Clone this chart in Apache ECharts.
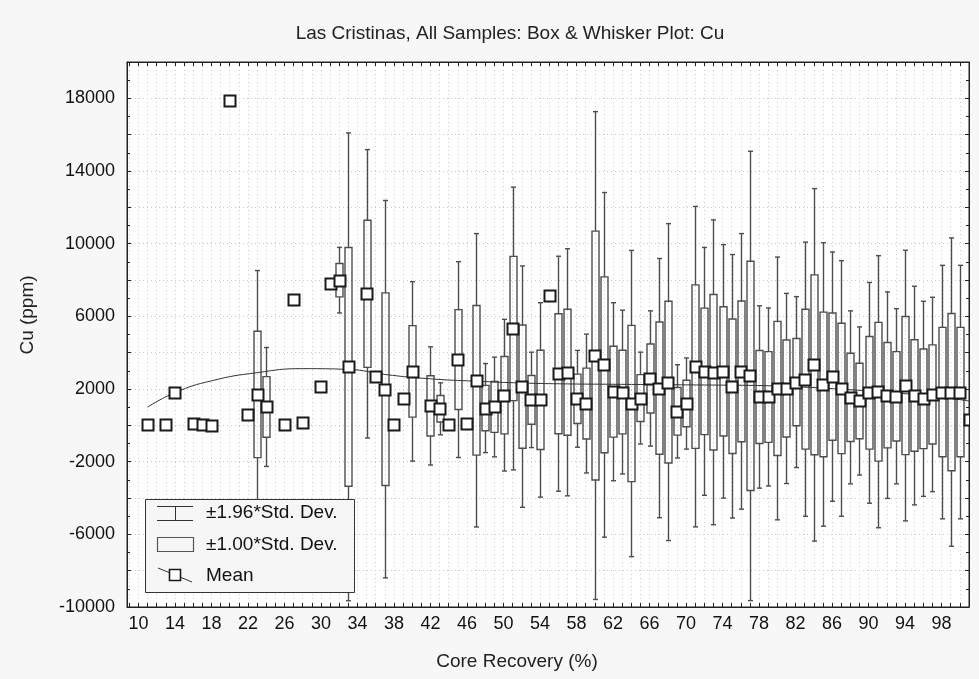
<!DOCTYPE html>
<html><head><meta charset="utf-8">
<script src="https://cdn.jsdelivr.net/npm/echarts@6/dist/echarts.min.js"></script>
<style>html,body{margin:0;padding:0;background:#f7f7f7}#c{width:979px;height:679px}</style>
</head><body><div id="c"></div>
<script>
// Core recovery categories (%)
const recovery = [11,13,14,16,17,18,20,22,23,24,26,27,28,30,31,32,33,35,36,37,38,39,40,42,43,44,45,46,47,48,49,50,51,52,53,54,55,56,57,58,59,60,61,62,63,64,65,66,67,68,69,70,71,72,73,74,75,76,77,78,79,80,81,82,83,84,85,86,87,88,89,90,91,92,93,94,95,96,97,98,99,100,101];
// Mean Cu (ppm)
const meanCu = [20,40,1830,120,60,-15,17880,620,1700,1010,30,6950,160,2150,7790,7990,3220,7240,2680,1990,30,1460,2970,1070,910,30,3620,80,2480,950,1010,1660,5330,2130,1400,1400,7160,2840,2920,1460,1200,3840,3330,1850,1830,1200,1500,2580,2050,2380,770,1200,3230,2970,2920,2970,2150,2970,2720,1560,1560,2030,2030,2380,2540,3330,2250,2680,2030,1540,1340,1790,1850,1660,1600,2190,1640,1460,1700,1830,1830,1830,300];
// Standard deviation of Cu (ppm)
const sdCu = [0,0,0,0,0,0,0,0,3480,1670,0,0,0,0,0,920,6570,4050,0,5300,0,0,2520,1660,730,0,2750,0,4120,1250,1400,2130,3970,3390,1340,2730,0,3300,3470,1360,1950,6850,4840,2500,2300,4300,1290,1900,3640,4450,1310,1280,4500,3480,4280,3560,3700,3870,6310,2560,2500,3690,2670,2400,3850,4950,3980,3500,3590,2430,2080,3100,3820,2900,2460,3800,3070,2740,2730,3560,4330,3560,0];
// Fitted trend of the means
const trendX = [11,14,18,23,28,33,37,42,47,52,57,62,67,72,77,82,87,92,97,101];
const trendY = [1000,1800,2450,2900,3120,3080,2800,2560,2430,2330,2280,2260,2240,2220,2200,2120,1990,1820,1600,1340];
// Tick labels
const xTickLabels = [10,14,18,22,26,30,34,38,42,46,50,54,58,62,66,70,74,78,82,86,90,94,98];
const yTickLabels = [-10000,-6000,-2000,2000,6000,10000,14000,18000];

const FONT = "'Liberation Sans', Arial, sans-serif";
const K = 1.96;
const boxData = recovery.map((x, i) => [x, meanCu[i], sdCu[i]]);
const xTicks = [];
for (let v = 9; v <= 100; v++) xTicks.push(v);

const chart = echarts.init(document.getElementById('c'), null, {renderer: 'canvas'});
const axLine = {show: true, onZero: false, lineStyle: {color: '#222', width: 1}};
const yTick = {show: true, inside: true, length: 4, lineStyle: {color: '#222'}};
const yMinor = {show: true, splitNumber: 2, length: 3, lineStyle: {color: '#222'}};
const LF = 19;
const legendItems = [
  {type: 'rect', shape: {x: 0.5, y: 0.5, width: 209, height: 93}, style: {fill: '#f6f6f6', stroke: '#333', lineWidth: 1}},
  {type: 'line', shape: {x1: 12, y1: 7.5, x2: 48, y2: 7.5}, style: {stroke: '#333', lineWidth: 1}},
  {type: 'line', shape: {x1: 12, y1: 21.5, x2: 48, y2: 21.5}, style: {stroke: '#333', lineWidth: 1}},
  {type: 'line', shape: {x1: 30.5, y1: 7.5, x2: 30.5, y2: 21.5}, style: {stroke: '#333', lineWidth: 1}},
  {type: 'text', style: {x: 61, y: 14, text: '±1.96*Std. Dev.', fontFamily: FONT, fontSize: LF, fill: '#111', verticalAlign: 'middle'}},
  {type: 'rect', shape: {x: 12.5, y: 38.5, width: 36, height: 14}, style: {fill: 'none', stroke: '#555', lineWidth: 1.2}},
  {type: 'text', style: {x: 61, y: 46, text: '±1.00*Std. Dev.', fontFamily: FONT, fontSize: LF, fill: '#111', verticalAlign: 'middle'}},
  {type: 'line', shape: {x1: 13, y1: 69, x2: 47, y2: 83}, style: {stroke: '#333', lineWidth: 1}},
  {type: 'rect', shape: {x: 24.5, y: 70.5, width: 11, height: 11}, style: {fill: '#fff', stroke: '#1a1a1a', lineWidth: 1.6}},
  {type: 'text', style: {x: 61, y: 77, text: 'Mean', fontFamily: FONT, fontSize: LF, fill: '#111', verticalAlign: 'middle'}}
];
legendItems.forEach(el => { el.z = 100; });

chart.setOption({
  backgroundColor: '#f7f7f7',
  animation: false,
  title: {
    text: 'Las Cristinas, All Samples: Box & Whisker Plot: Cu',
    left: 505, top: 19, textAlign: 'center',
    textStyle: {fontFamily: FONT, fontSize: 19, fontWeight: 'normal', color: '#222'}
  },
  grid: {left: 127, right: 10, top: 62, bottom: 72, show: true, backgroundColor: '#ffffff', borderColor: '#222', borderWidth: 1},
  xAxis: [{
    type: 'value', min: 8.75, max: 101, splitNumber: 92, minInterval: 1, maxInterval: 1,
    name: 'Core Recovery (%)', nameLocation: 'middle', nameGap: 45,
    nameTextStyle: {fontFamily: FONT, fontSize: 19, color: '#222', padding: [0, 62, 0, 0]},
    axisLine: axLine,
    axisTick: {show: true, inside: true, length: 4, lineStyle: {color: '#222'}, customValues: xTicks},
    axisLabel: {customValues: xTickLabels, fontFamily: FONT, fontSize: 18, color: '#111', margin: 8, formatter: v => String(v)},
    splitLine: {show: true, lineStyle: {color: '#cccccc', type: [1, 3], width: 1}}
  }, {
    type: 'value', min: 8.75, max: 101, position: 'top',
    axisLine: axLine,
    axisTick: {show: true, inside: true, length: 4, lineStyle: {color: '#222'}, customValues: xTicks},
    axisLabel: {show: false}, splitLine: {show: false}
  }],
  yAxis: [{
    type: 'value', min: -10000, max: 20000, interval: 2000,
    name: 'Cu (ppm)', nameLocation: 'middle', nameGap: 90, nameRotate: 90,
    nameTextStyle: {fontFamily: FONT, fontSize: 19, color: '#222', padding: [0, 0, 0, 39]},
    axisLine: axLine,
    axisTick: yTick,
    minorTick: yMinor,
    axisLabel: {customValues: yTickLabels, fontFamily: FONT, fontSize: 18, color: '#111', margin: 12, formatter: v => String(v)},
    splitLine: {show: true, lineStyle: {color: '#cccccc', type: [1, 3], width: 1}}
  }, {
    type: 'value', min: -10000, max: 20000, interval: 2000, position: 'right',
    axisLine: axLine,
    axisTick: yTick,
    minorTick: yMinor,
    axisLabel: {show: false}, splitLine: {show: false}
  }],
  series: [{
    type: 'custom', name: 'boxes', clip: true, z: 2,
    data: boxData,
    renderItem: function (params, api) {
      const x = api.value(0), m = api.value(1), s = api.value(2);
      if (!s) return null;
      const wt = api.coord([x, m + K * s]);
      const wb = api.coord([x, m - K * s]);
      const bt = api.coord([x, m + s]);
      const bb = api.coord([x, m - s]);
      const cx = Math.round(wt[0]) + 0.5;
      const bw = 7, cw = 5;
      const st = {stroke: '#4d4d4d', lineWidth: 1.4, fill: null};
      return {type: 'group', children: [
        {type: 'line', shape: {x1: cx, y1: wt[1], x2: cx, y2: bt[1]}, style: st},
        {type: 'line', shape: {x1: cx, y1: bb[1], x2: cx, y2: wb[1]}, style: st},
        {type: 'line', shape: {x1: cx - cw / 2, y1: wt[1], x2: cx + cw / 2, y2: wt[1]}, style: st},
        {type: 'line', shape: {x1: cx - cw / 2, y1: wb[1], x2: cx + cw / 2, y2: wb[1]}, style: st},
        {type: 'rect', shape: {x: cx - bw / 2, y: bt[1], width: bw, height: bb[1] - bt[1]}, style: {stroke: '#4d4d4d', lineWidth: 1.4, fill: 'rgba(255,255,255,0)'}}
      ]};
    }
  }, {
    type: 'line', name: 'trend', smooth: true, symbol: 'none', z: 3,
    data: trendX.map((x, i) => [x, trendY[i]]),
    lineStyle: {color: '#333', width: 1}
  }, {
    type: 'custom', name: 'Mean', clip: true, z: 4,
    data: boxData,
    renderItem: function (params, api) {
      const p = api.coord([api.value(0), api.value(1)]);
      const sz = 11;
      return {type: 'rect', shape: {x: Math.round(p[0] - sz / 2) + 0.5, y: Math.round(p[1] - sz / 2) + 0.5, width: sz, height: sz},
        style: {fill: '#ffffff', stroke: '#1a1a1a', lineWidth: 2}};
    }
  }],
  graphic: [{
    type: 'group', left: 145, top: 499, z: 100,
    children: legendItems
  }]
});
</script></body></html>
